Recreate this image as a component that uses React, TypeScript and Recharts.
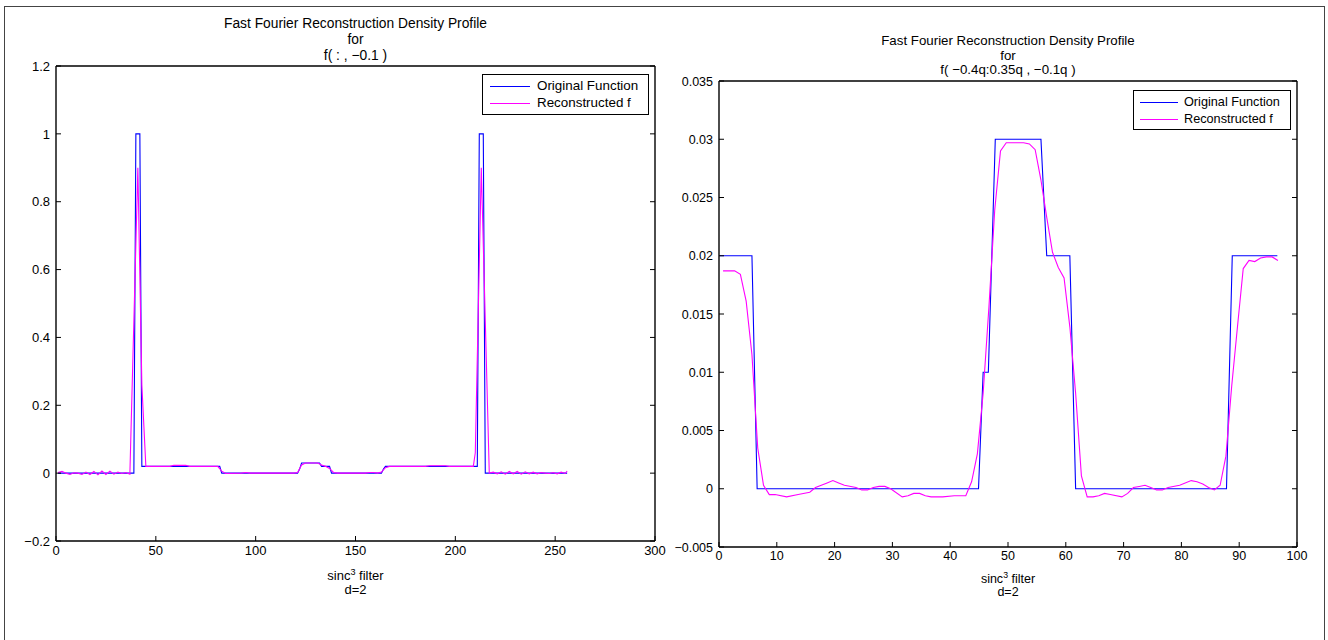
import { Line, LineChart, XAxis, YAxis } from "recharts";

// left panel: f( : , -0.1 ), 256 samples
const LEFT_X_TICKS = [0, 50, 100, 150, 200, 250, 300];
const LEFT_Y_TICKS = [-0.2, 0, 0.2, 0.4, 0.6, 0.8, 1, 1.2];
const LEFT_Y_LABELS = ["−0.2", "0", "0.2", "0.4", "0.6", "0.8", "1", "1.2"];

const LEFT_ORIG_X = [1, 39, 40, 42, 43, 82, 83, 121, 122, 123, 132, 133, 137, 138, 163, 164, 165, 211, 212, 214, 215, 256];
const LEFT_ORIG_Y = [0, 0, 1, 1, 0.02, 0.02, 0, 0, 0.012, 0.03, 0.03, 0.02, 0.02, 0, 0, 0.012, 0.02, 0.02, 1, 1, 0, 0];

const LEFT_REC_X = [
  1, 3, 5, 7, 9, 11, 13, 15, 17, 19, 21, 23, 25, 27, 29, 31, 33, 35, 37, 41, 43, 45, 57, 59, 65, 67, 81, 83, 85, 93,
  95, 97, 119, 121, 123, 125, 131, 133, 135, 137, 139, 141, 155, 157, 159, 161, 163, 165, 167, 185, 187, 195, 197,
  209, 210, 213, 217, 219, 221, 223, 225, 227, 229, 231, 233, 235, 237, 239, 241, 243, 245, 247, 249, 251, 253, 255,
  256,
];
const LEFT_REC_Y = [
  0.002, 0.005, 0, -0.004, 0.001, 0, -0.004, 0.003, -0.004, 0.005, -0.005, 0.006, -0.004, 0.006, -0.003, 0.003, -0.001,
  0.002, -0.003, 0.9, 0.26, 0.02, 0.02, 0.023, 0.023, 0.02, 0.02, 0.006, -0.001, 0, 0.002, 0, 0, 0.002, 0.024, 0.03,
  0.03, 0.024, 0.02, 0.014, 0.002, 0, 0, 0.002, 0.002, 0, 0.003, 0.016, 0.02, 0.02, 0.022, 0.022, 0.02, 0.02, 0.06,
  0.9, 0, 0.003, -0.002, 0.004, -0.003, 0.005, -0.002, 0.005, -0.003, 0.004, -0.002, 0.003, -0.002, 0.002, 0, -0.001,
  0.002, -0.002, 0.003, -0.001, 0.006,
];

// right panel: f( -0.4q:0.35q , -0.1q )
const RIGHT_X_TICKS = [0, 10, 20, 30, 40, 50, 60, 70, 80, 90, 100];
const RIGHT_Y_TICKS = [-0.005, 0, 0.005, 0.01, 0.015, 0.02, 0.025, 0.03, 0.035];
const RIGHT_Y_LABELS = ["−0.005", "0", "0.005", "0.01", "0.015", "0.02", "0.025", "0.03", "0.035"];

const RIGHT_ORIG_X = [0.1, 5.7, 6.6, 44.9, 45.7, 46.6, 47.8, 55.7, 56.7, 60.7, 61.7, 87.8, 88.8, 96.6];
const RIGHT_ORIG_Y = [0.02, 0.02, 0, 0, 0.01, 0.01, 0.03, 0.03, 0.02, 0.02, 0, 0, 0.02, 0.02];

const RIGHT_REC_X = [
  0.7, 1.7, 2.7, 3.7, 4.7, 5.7, 6.7, 7.7, 8.7, 9.7, 11.7, 13.7, 15.7, 16.7, 18.7, 19.7, 20.7, 21.7, 23.7, 24.7, 25.7,
  26.7, 27.7, 28.7, 29.7, 31.7, 32.7, 33.7, 34.7, 35.7, 36.7, 38.7, 40.7, 41.7, 42.7, 43.7, 44.7, 45.7, 46.7, 47.7,
  48.7, 49.7, 52.7, 53.7, 54.7, 55.7, 56.7, 57.7, 58.7, 59.7, 60.7, 61.7, 62.7, 63.7, 64.7, 65.7, 66.7, 67.7, 69.7,
  70.7, 71.7, 72.7, 73.7, 74.7, 75.7, 76.7, 77.7, 79.7, 81.7, 82.7, 83.7, 84.7, 85.7, 86.7, 87.7, 88.7, 89.7, 90.7,
  91.7, 92.7, 93.7, 94.7, 95.7, 96.7,
];
const RIGHT_REC_Y = [
  0.0187, 0.0187, 0.0187, 0.0184, 0.0161, 0.0115, 0.0035, 0.0003, -0.0005, -0.0005, -0.0007, -0.0005, -0.0003,
  0.0001, 0.0005, 0.0007, 0.0005, 0.0003, 0.0001, -0.0001, -0.0001, 0.0001, 0.0002, 0.0002, 0, -0.0007, -0.0006,
  -0.0004, -0.0004, -0.0006, -0.0007, -0.0007, -0.0006, -0.0006, -0.0006, 0.0006, 0.003, 0.0082, 0.0156, 0.0239,
  0.029, 0.0297, 0.0297, 0.0296, 0.0291, 0.0265, 0.0233, 0.0203, 0.019, 0.0181, 0.0139, 0.0082, 0.0011, -0.0007,
  -0.0007, -0.0006, -0.0004, -0.0005, -0.0007, -0.0004, 0.0001, 0.0002, 0.0003, 0.0001, -0.0001, -0.0001, 0.0001,
  0.0003, 0.0007, 0.0006, 0.0004, 0.0001, -0.0001, 0.0003, 0.0028, 0.0088, 0.0139, 0.0189, 0.0196, 0.0195, 0.0198,
  0.0199, 0.0199, 0.0196,
];

const SERIES_NAMES = ["Original Function", "Reconstructed f"];
const BLUE = "#0000ff";
const MAGENTA = "#ff00ff";
const FONT = "'Liberation Sans', Arial, Helvetica, sans-serif";
const TICK_LEN = 5;

const toPoints = (xs: number[], ys: number[]) => xs.map((x, i) => ({ x, y: ys[i] }));

function labelFor(ticks: number[], labels: string[], v: number) {
  let best = 0;
  ticks.forEach((t, i) => {
    if (Math.abs(t - v) < Math.abs(ticks[best] - v)) best = i;
  });
  return labels[best];
}

// matlab style ticks: marks point into the plot box
function InTick(props: any) {
  const { x, y, side, payload, fontSize, labels, ticks } = props;
  const v = payload?.value ?? 0;
  if (side === "bottom") {
    return (
      <g>
        <line x1={x} x2={x} y1={y} y2={y - TICK_LEN} stroke="#000" />
        <text x={x} y={y + 4} dy="0.75em" textAnchor="middle" fontSize={fontSize} fill="#000">
          {String(v)}
        </text>
      </g>
    );
  }
  if (side === "left") {
    return (
      <g>
        <line x1={x} x2={x + TICK_LEN} y1={y} y2={y} stroke="#000" />
        <text x={x - 6} y={y} dy="0.36em" textAnchor="end" fontSize={fontSize} fill="#000">
          {labelFor(ticks, labels, v)}
        </text>
      </g>
    );
  }
  if (side === "top") return <line x1={x} x2={x} y1={y} y2={y + TICK_LEN} stroke="#000" />;
  return <line x1={x} x2={x - TICK_LEN} y1={y} y2={y} stroke="#000" />;
}

type PanelProps = {
  left: number;
  width: number;
  margin: { top: number; right: number; bottom: number; left: number };
  xDomain: [number, number];
  yDomain: [number, number];
  xTicks: number[];
  yTicks: number[];
  yLabels: string[];
  fontSize: number;
  orig: { x: number; y: number }[];
  rec: { x: number; y: number }[];
};

function Panel(p: PanelProps) {
  const axisLine = { stroke: "#000", strokeWidth: 1.4 };
  const common = { tickLine: false, tickSize: 0, tickMargin: 0, axisLine, interval: 0 as const, allowDataOverflow: true };
  return (
    <div style={{ position: "absolute", left: p.left, top: 0 }}>
      <LineChart width={p.width} height={640} margin={p.margin}>
        <XAxis
          {...common}
          xAxisId="bottom"
          dataKey="x"
          type="number"
          domain={p.xDomain}
          ticks={p.xTicks}
          height={25}
          tick={<InTick side="bottom" fontSize={p.fontSize} />}
        />
        <XAxis
          {...common}
          xAxisId="top"
          orientation="top"
          type="number"
          domain={p.xDomain}
          ticks={p.xTicks}
          height={1}
          tick={<InTick side="top" />}
        />
        <YAxis
          {...common}
          yAxisId="left"
          type="number"
          domain={p.yDomain}
          ticks={p.yTicks}
          width={50}
          tick={<InTick side="left" fontSize={p.fontSize} ticks={p.yTicks} labels={p.yLabels} />}
        />
        <YAxis
          {...common}
          yAxisId="right"
          orientation="right"
          type="number"
          domain={p.yDomain}
          ticks={p.yTicks}
          width={1}
          tick={<InTick side="right" />}
        />
        <Line
          xAxisId="bottom"
          yAxisId="left"
          data={p.orig}
          dataKey="y"
          name={SERIES_NAMES[0]}
          type="linear"
          stroke={BLUE}
          strokeWidth={1.1}
          dot={false}
          isAnimationActive={false}
        />
        <Line
          xAxisId="bottom"
          yAxisId="left"
          data={p.rec}
          dataKey="y"
          name={SERIES_NAMES[1]}
          type="linear"
          stroke={MAGENTA}
          strokeWidth={1.1}
          dot={false}
          isAnimationActive={false}
        />
      </LineChart>
    </div>
  );
}

function Legend(props: {
  left: number;
  top: number;
  width: number;
  height: number;
  fontSize: number;
  lineX: number;
  lineLen: number;
  textX: number;
  rows: [number, number];
}) {
  const row = (color: string, text: string, cy: number) => (
    <div style={{ position: "absolute", left: 0, top: cy - 8, height: 16, width: "100%" }}>
      <div
        style={{
          position: "absolute",
          left: props.lineX,
          top: 8,
          width: props.lineLen,
          height: 1,
          background: color,
        }}
      />
      <div style={{ position: "absolute", left: props.textX, top: 0, lineHeight: "16px", whiteSpace: "nowrap" }}>
        {text}
      </div>
    </div>
  );
  return (
    <div
      style={{
        position: "absolute",
        left: props.left,
        top: props.top,
        width: props.width,
        height: props.height,
        border: "1px solid #000",
        background: "#fff",
        fontSize: props.fontSize,
        boxSizing: "border-box",
      }}
    >
      {row(BLUE, SERIES_NAMES[0], props.rows[0])}
      {row(MAGENTA, SERIES_NAMES[1], props.rows[1])}
    </div>
  );
}

function Title(props: { cx: number; top: number; lineHeight: number; fontSize: number; lines: string[] }) {
  return (
    <div
      style={{
        position: "absolute",
        left: props.cx - 250,
        width: 500,
        top: props.top,
        textAlign: "center",
        fontSize: props.fontSize,
        lineHeight: `${props.lineHeight}px`,
      }}
    >
      {props.lines.map((l) => (
        <div key={l}>{l}</div>
      ))}
    </div>
  );
}

function XLabel(props: { cx: number; top: number; lineHeight: number; fontSize: number }) {
  return (
    <div
      style={{
        position: "absolute",
        left: props.cx - 100,
        width: 200,
        top: props.top,
        textAlign: "center",
        fontSize: props.fontSize,
        lineHeight: `${props.lineHeight}px`,
      }}
    >
      <div>
        sinc<sup style={{ fontSize: props.fontSize * 0.7, lineHeight: 0, verticalAlign: "5px" }}>3</sup> filter
      </div>
      <div>d=2</div>
    </div>
  );
}

export default function App() {
  return (
    <div
      style={{
        position: "absolute",
        left: 0,
        top: 0,
        width: 1328,
        height: 640,
        overflow: "hidden",
        background: "#fff",
        fontFamily: FONT,
        color: "#000",
      }}
    >
      <div
        style={{
          position: "absolute",
          left: 4,
          top: 6,
          width: 1321,
          height: 700,
          border: "1px solid #444",
          boxSizing: "border-box",
        }}
      />
      <Panel
        left={0}
        width={690}
        margin={{ top: 65, right: 34, bottom: 74, left: 6 }}
        xDomain={[0, 300]}
        yDomain={[-0.2, 1.2]}
        xTicks={LEFT_X_TICKS}
        yTicks={LEFT_Y_TICKS}
        yLabels={LEFT_Y_LABELS}
        fontSize={13}
        orig={toPoints(LEFT_ORIG_X, LEFT_ORIG_Y)}
        rec={toPoints(LEFT_REC_X, LEFT_REC_Y)}
      />
      <Panel
        left={660}
        width={668}
        margin={{ top: 80, right: 30, bottom: 68, left: 9 }}
        xDomain={[0, 100]}
        yDomain={[-0.005, 0.035]}
        xTicks={RIGHT_X_TICKS}
        yTicks={RIGHT_Y_TICKS}
        yLabels={RIGHT_Y_LABELS}
        fontSize={12.5}
        orig={toPoints(RIGHT_ORIG_X, RIGHT_ORIG_Y)}
        rec={toPoints(RIGHT_REC_X, RIGHT_REC_Y)}
      />
      <Title
        cx={355.5}
        top={16}
        lineHeight={16}
        fontSize={13.8}
        lines={["Fast Fourier Reconstruction Density Profile", "for", "f( : , −0.1 )"]}
      />
      <Title
        cx={1008}
        top={34}
        lineHeight={14.5}
        fontSize={13.3}
        lines={["Fast Fourier Reconstruction Density Profile", "for", "f( −0.4q:0.35q , −0.1q )"]}
      />
      <XLabel cx={355.5} top={569} lineHeight={14} fontSize={13} />
      <XLabel cx={1008} top={573} lineHeight={13} fontSize={12.5} />
      <Legend
        left={482}
        top={74}
        width={167}
        height={41}
        fontSize={13.4}
        lineX={7}
        lineLen={40}
        textX={54}
        rows={[11, 28]}
      />
      <Legend
        left={1133}
        top={90}
        width={158}
        height={40}
        fontSize={12.7}
        lineX={6}
        lineLen={38}
        textX={50}
        rows={[11, 28]}
      />
    </div>
  );
}
